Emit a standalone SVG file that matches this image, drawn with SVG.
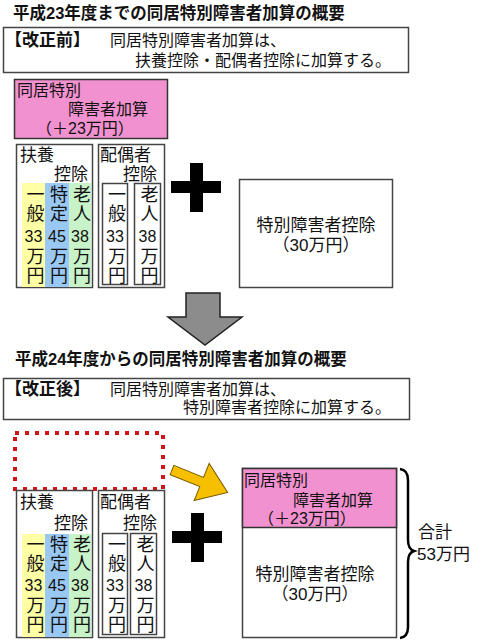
<svg xmlns="http://www.w3.org/2000/svg" width="479" height="641" viewBox="0 0 479 641">
<style>
text{font-family:"Liberation Sans","Noto Sans CJK JP",sans-serif;fill:#111}
.t{font-size:16.5px;font-weight:bold}
.b{font-size:16px}
.k{font-size:17px;font-weight:bold}
.box{fill:#fff;stroke:#444;stroke-width:1.5}
.pink{fill:#F291CF;stroke:#333;stroke-width:1.5}
.v{font-size:18px;writing-mode:vertical-rl;letter-spacing:1px}
.d{font-size:16px;text-anchor:middle}
.m{font-size:17px;text-anchor:middle}
.l{font-size:17px}
</style>
<rect width="479" height="641" fill="#fff"/>

<g id="title1"><text class="t" x="13" y="19">平成23年度までの同居特別障害者加算の概要</text></g>
<g id="note1">
<rect class="box" x="3.5" y="27.5" width="405" height="45"/>
<text class="k" x="5" y="46">【改正前】</text>
<text class="b" x="110" y="46">同居特別障害者加算は、</text>
<text class="b" x="135" y="66">扶養控除・配偶者控除に加算する。</text>
</g>

<g id="kasan1">
<rect class="pink" x="14.5" y="79.5" width="153" height="59"/>
<text class="b" x="17" y="96">同居特別</text>
<text class="b" x="68" y="115">障害者加算</text>
<text class="b" x="36" y="134">（＋23万円）</text>
</g>

<g id="fuyou1">
<rect class="box" x="16.5" y="144.5" width="76" height="143"/>
<rect x="22" y="183" width="23" height="104" fill="#FFFFA6"/>
<rect x="45" y="183" width="24" height="104" fill="#99C8F4"/>
<rect x="69" y="183" width="22" height="104" fill="#C8F2C8"/>
<text class="l" x="20" y="161">扶養</text>
<text class="l" x="54" y="180">控除</text>
<text class="v" x="33.5" y="185">一般</text><text class="d" x="33.5" y="242">33</text><text class="v" x="33.5" y="247">万円</text>
<text class="v" x="57" y="185">特定</text><text class="d" x="57" y="242">45</text><text class="v" x="57" y="247">万円</text>
<text class="v" x="80" y="185">老人</text><text class="d" x="80" y="242">38</text><text class="v" x="80" y="247">万円</text>
</g>

<g id="haiguu1">
<rect class="box" x="98.5" y="144.5" width="66" height="143"/>
<text class="l" x="100" y="161">配偶者</text>
<text class="l" x="123" y="180">控除</text>
<rect class="box" x="102.5" y="183.5" width="25" height="101"/>
<rect class="box" x="134.5" y="183.5" width="26" height="101"/>
<text class="v" x="115" y="185">一般</text><text class="d" x="115" y="242">33</text><text class="v" x="115" y="247">万円</text>
<text class="v" x="147.5" y="185">老人</text><text class="d" x="147.5" y="242">38</text><text class="v" x="147.5" y="247">万円</text>
</g>

<g id="plus1"><rect x="190" y="163" width="13" height="49" fill="#000"/><rect x="171" y="181" width="50" height="12" fill="#000"/></g>

<g id="tokubetsu1">
<rect class="box" x="239.5" y="179.5" width="153" height="108"/>
<text class="m" x="316" y="231">特別障害者控除</text>
<text class="m" x="316" y="251">（30万円）</text>
</g>

<g id="title2"><text class="t" x="15" y="365">平成24年度からの同居特別障害者加算の概要</text></g>
<g id="note2">
<rect class="box" x="3.5" y="378.5" width="406" height="41"/>
<text class="k" x="5" y="395">【改正後】</text>
<text class="b" x="110" y="395">同居特別障害者加算は、</text>
<text class="b" x="183" y="413">特別障害者控除に加算する。</text>
</g>

<g id="removed"><rect x="15" y="433" width="148" height="56" fill="none" stroke="#D01515" stroke-width="4" stroke-dasharray="4 6"/></g>

<g id="fuyou2">
<rect class="box" x="16.5" y="490.5" width="76" height="147"/>
<rect x="22" y="534" width="23" height="103" fill="#FFFFA6"/>
<rect x="45" y="534" width="24" height="103" fill="#99C8F4"/>
<rect x="69" y="534" width="22" height="103" fill="#C8F2C8"/>
<text class="l" x="20" y="508">扶養</text>
<text class="l" x="54" y="529">控除</text>
<text class="v" x="33.5" y="535">一般</text><text class="d" x="33.5" y="591">33</text><text class="v" x="33.5" y="596">万円</text>
<text class="v" x="57" y="535">特定</text><text class="d" x="57" y="591">45</text><text class="v" x="57" y="596">万円</text>
<text class="v" x="80" y="535">老人</text><text class="d" x="80" y="591">38</text><text class="v" x="80" y="596">万円</text>
</g>

<g id="haiguu2">
<rect class="box" x="98.5" y="490.5" width="66" height="147"/>
<text class="l" x="100" y="508">配偶者</text>
<text class="l" x="123" y="529">控除</text>
<rect class="box" x="102.5" y="533.5" width="25" height="101"/>
<rect class="box" x="130.5" y="533.5" width="26" height="101"/>
<text class="v" x="115" y="535">一般</text><text class="d" x="115" y="591">33</text><text class="v" x="115" y="596">万円</text>
<text class="v" x="143.5" y="535">老人</text><text class="d" x="143.5" y="591">38</text><text class="v" x="143.5" y="596">万円</text>
</g>

<g id="plus2"><rect x="191" y="513" width="13" height="49" fill="#000"/><rect x="172" y="531" width="50" height="12" fill="#000"/></g>

<g id="tokubetsu2">
<rect class="box" x="242.5" y="468.5" width="154" height="169"/>
<rect class="pink" x="242.5" y="468.5" width="154" height="59"/>
<text class="b" x="244" y="486">同居特別</text>
<text class="b" x="293" y="506">障害者加算</text>
<text class="b" x="258" y="524">（＋23万円）</text>
<text class="m" x="315" y="580">特別障害者控除</text>
<text class="m" x="315" y="600">（30万円）</text>
</g>

<g id="total">
<path d="M400,469 Q408,470 408,480 L408,540 Q408,549 414,551 Q408,553 408,562 L408,627 Q408,637 400,638" fill="none" stroke="#000" stroke-width="2.5"/>
<text class="l" x="418" y="538">合計</text>
<text class="l" x="417" y="560">53万円</text>
</g>

<g id="connectors">
<polygon points="186,293 220,293 220,317 242,317 205,345 168,317 186,317" fill="#8C8C8C" stroke="#222" stroke-width="1.5"/>
<polygon points="0,-5 32,-5 32,-20 60,0 32,20 32,5 0,5" transform="translate(172,470) rotate(22)" fill="#F6C000" stroke="#7A5A00" stroke-width="1"/>
</g>
</svg>
